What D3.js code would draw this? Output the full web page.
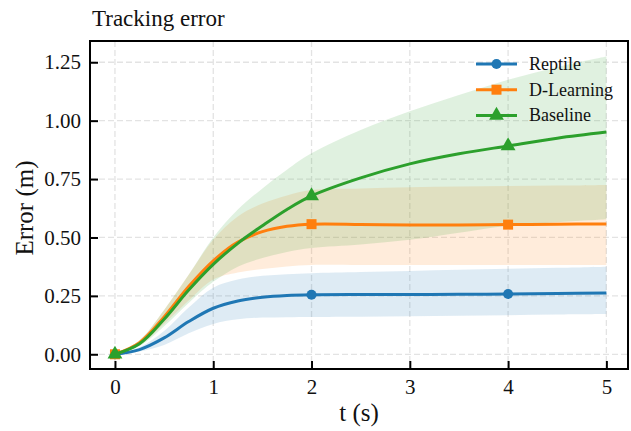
<!DOCTYPE html>
<html lang="en">
<head>
<meta charset="UTF-8">
<title>Tracking error</title>
<script src="https://d3js.org/d3.v7.min.js"></script>
<style>
    body { margin: 0; background: #fff; }
    svg text { font-family: "Liberation Serif", "Times New Roman", serif; fill: #111; }
</style>
</head>
<body>
<div id="chart"></div>
<script>
    // time samples (s)
    const times = [0, 0.25, 0.5, 0.75, 1, 1.25, 1.5, 1.75, 2, 2.5, 3, 3.5, 4, 4.5, 5];

    // mean tracking error (m)
    const reptile   = [0, 0.02, 0.07, 0.14, 0.197, 0.228, 0.244, 0.252, 0.255, 0.256, 0.256, 0.257, 0.258, 0.26, 0.262];
    const dlearning = [0, 0.05, 0.16, 0.29, 0.40, 0.48, 0.525, 0.548, 0.557, 0.556, 0.553, 0.553, 0.555, 0.557, 0.558];
    const baseline  = [0, 0.045, 0.15, 0.275, 0.385, 0.475, 0.55, 0.62, 0.678, 0.755, 0.815, 0.858, 0.892, 0.925, 0.951];

    // shaded bands (lower / upper)
    const reptileLo   = [0, 0.012, 0.04, 0.09, 0.13, 0.15, 0.157, 0.159, 0.16, 0.161, 0.163, 0.165, 0.167, 0.17, 0.172];
    const reptileHi   = [0, 0.03, 0.1, 0.2, 0.285, 0.32, 0.336, 0.343, 0.347, 0.352, 0.357, 0.362, 0.366, 0.37, 0.375];
    const dlearningLo = [0, 0.04, 0.13, 0.23, 0.32, 0.35, 0.365, 0.376, 0.382, 0.382, 0.382, 0.382, 0.382, 0.382, 0.382];
    const dlearningHi = [0, 0.06, 0.19, 0.34, 0.49, 0.59, 0.645, 0.68, 0.703, 0.71, 0.715, 0.718, 0.72, 0.722, 0.725];
    const baselineLo  = [0, 0.035, 0.12, 0.22, 0.31, 0.375, 0.412, 0.438, 0.455, 0.47, 0.49, 0.52, 0.55, 0.565, 0.578];
    const baselineHi  = [0, 0.06, 0.19, 0.34, 0.5, 0.62, 0.71, 0.79, 0.86, 0.96, 1.04, 1.11, 1.175, 1.23, 1.275];

    const markerTimes = [0, 2, 4];
    const xTicks = [0, 1, 2, 3, 4, 5];
    const yTicks = [0, 0.25, 0.5, 0.75, 1.0, 1.25];

    const seriesNames = ["Reptile", "D-Learning", "Baseline"];
    const colors = ["#1f77b4", "#ff7f0e", "#2ca02c"];
    const symbols = [d3.symbolCircle, d3.symbolSquare, d3.symbolTriangle];
    const symbolSizes = [80, 100, 95];

    const series = [
        { name: seriesNames[0], mean: reptile, lo: reptileLo, hi: reptileHi },
        { name: seriesNames[1], mean: dlearning, lo: dlearningLo, hi: dlearningHi },
        { name: seriesNames[2], mean: baseline, lo: baselineLo, hi: baselineHi }
    ];

    const serif = "'Liberation Serif', 'Times New Roman', serif";
    const width = 631, height = 431;
    const margin = { left: 90, right: 3, top: 41, bottom: 62 };

    const svg = d3.select("#chart").append("svg")
        .attr("width", width)
        .attr("height", height);

    const x = d3.scaleLinear()
        .domain([-0.254, 5.22])
        .range([margin.left, width - margin.right]);
    const y = d3.scaleLinear()
        .domain([-0.063, 1.341])
        .range([height - margin.bottom, margin.top]);

    // grid
    const grid = svg.append("g").attr("class", "grid")
        .attr("stroke", "#e3e3e3")
        .attr("stroke-width", 1.3)
        .attr("stroke-dasharray", "6,3");
    grid.selectAll(".gx").data(xTicks).enter().append("line")
        .attr("x1", d => x(d)).attr("x2", d => x(d))
        .attr("y1", margin.top).attr("y2", height - margin.bottom);
    grid.selectAll(".gy").data(yTicks).enter().append("line")
        .attr("y1", d => y(d)).attr("y2", d => y(d))
        .attr("x1", margin.left).attr("x2", width - margin.right);

    const curve = d3.curveCatmullRom.alpha(0.5);

    // bands
    const area = d3.area()
        .x((d, i) => x(times[i]))
        .y0(d => y(d[0]))
        .y1(d => y(d[1]))
        .curve(curve);

    series.forEach((s, k) => {
        svg.append("path")
            .datum(s.lo.map((v, i) => [v, s.hi[i]]))
            .attr("d", area)
            .attr("fill", colors[k])
            .attr("fill-opacity", 0.15);
    });

    // lines
    const line = d3.line()
        .x((d, i) => x(times[i]))
        .y(d => y(d))
        .curve(curve);

    series.forEach((s, k) => {
        svg.append("path")
            .datum(s.mean)
            .attr("d", line)
            .attr("fill", "none")
            .attr("stroke", colors[k])
            .attr("stroke-width", 3);

        svg.selectAll(".m" + k)
            .data(markerTimes)
            .enter().append("path")
            .attr("transform", t => "translate(" + x(t) + "," + y(s.mean[times.indexOf(t)]) + ")")
            .attr("d", d3.symbol().type(symbols[k]).size(symbolSizes[k]))
            .attr("fill", colors[k]);
    });

    // frame
    svg.append("rect")
        .attr("x", margin.left).attr("y", margin.top)
        .attr("width", width - margin.right - margin.left)
        .attr("height", height - margin.bottom - margin.top)
        .attr("fill", "none")
        .attr("stroke", "#000")
        .attr("stroke-width", 2);

    // axes (ticks pointing inward)
    const xAxis = svg.append("g")
        .attr("transform", "translate(0," + (height - margin.bottom) + ")")
        .call(d3.axisBottom(x).tickValues(xTicks).tickFormat(d3.format("d"))
            .tickSizeInner(-8).tickSizeOuter(0).tickPadding(10));
    const yAxis = svg.append("g")
        .attr("transform", "translate(" + margin.left + ",0)")
        .call(d3.axisLeft(y).tickValues(yTicks).tickFormat(d3.format(".2f"))
            .tickSizeInner(-8).tickSizeOuter(0).tickPadding(9));
    [xAxis, yAxis].forEach(a => {
        a.attr("font-family", serif).attr("font-size", 21);
        a.select(".domain").remove();
        a.selectAll(".tick line").attr("stroke", "#000").attr("stroke-width", 2);
        a.selectAll(".tick text")
            .attr("font-family", serif)
            .attr("font-size", 21)
            .attr("fill", "#111");
    });

    // labels
    svg.append("text")
        .attr("x", 92).attr("y", 26)
        .attr("font-size", 23)
        .text("Tracking error");

    svg.append("text")
        .attr("x", (margin.left + width - margin.right) / 2)
        .attr("y", 421)
        .attr("text-anchor", "middle")
        .attr("font-size", 25)
        .text("t (s)");

    svg.append("text")
        .attr("transform", "translate(33,208) rotate(-90)")
        .attr("text-anchor", "middle")
        .attr("font-size", 25)
        .text("Error (m)");

    // legend
    const legend = svg.append("g").attr("transform", "translate(476,64)");
    series.forEach((s, k) => {
        const row = legend.append("g").attr("transform", "translate(0," + (k * 25.7) + ")");
        row.append("line")
            .attr("x1", 0).attr("x2", 41)
            .attr("stroke", colors[k]).attr("stroke-width", 3);
        row.append("path")
            .attr("transform", "translate(20.5,0)")
            .attr("d", d3.symbol().type(symbols[k]).size(symbolSizes[k]))
            .attr("fill", colors[k]);
        row.append("text")
            .attr("x", 53).attr("y", 6)
            .attr("font-size", 18)
            .text(s.name);
    });
</script>
</body>
</html>
